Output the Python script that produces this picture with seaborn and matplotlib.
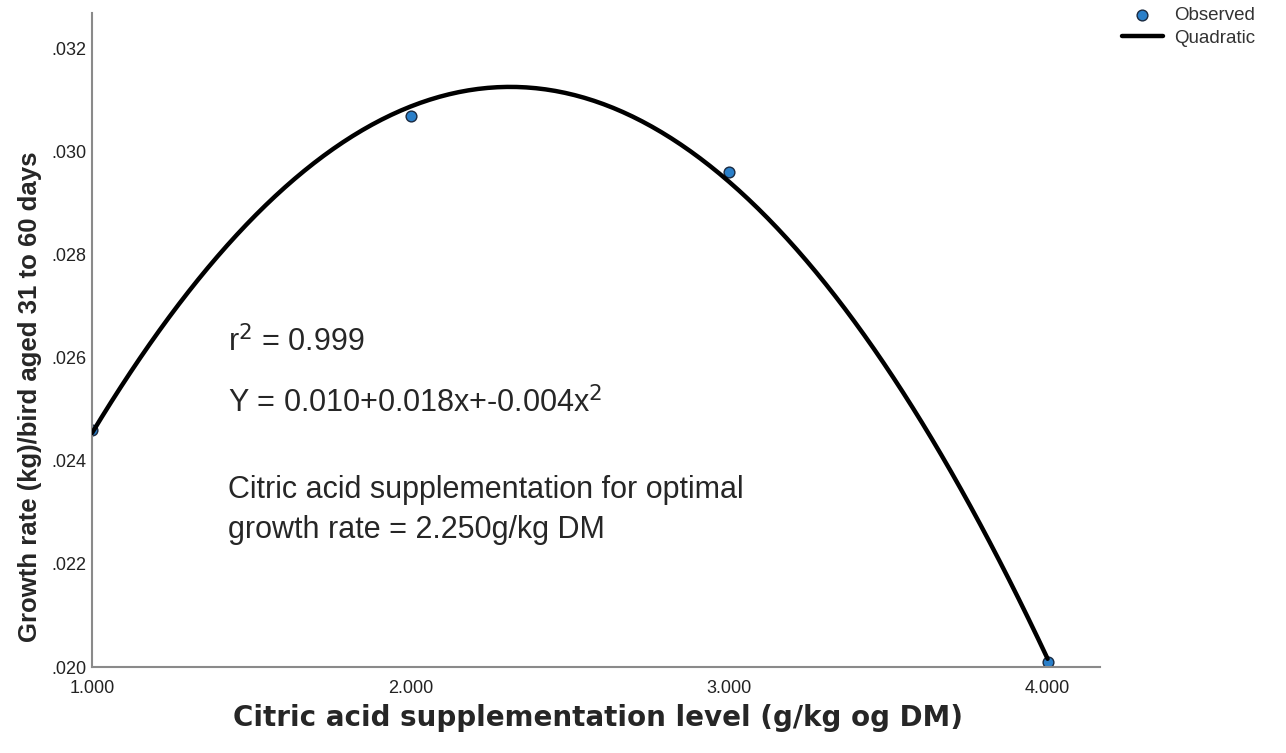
import numpy as np
import pandas as pd
import matplotlib.pyplot as plt
import seaborn as sns

# ----------------------------------------------------------
# Data
# ----------------------------------------------------------
citric_level = [1.0, 2.0, 3.0, 4.0]
growth_rate = [0.0246, 0.0307, 0.0296, 0.0201]

x_ticks = [1.0, 2.0, 3.0, 4.0]
x_tick_labels = ["1.000", "2.000", "3.000", "4.000"]
y_ticks = [0.020, 0.022, 0.024, 0.026, 0.028, 0.030, 0.032]
y_tick_labels = [".020", ".022", ".024", ".026", ".028", ".030", ".032"]

df = pd.DataFrame({"level": citric_level, "growth": growth_rate})

# ----------------------------------------------------------
# Plot
# ----------------------------------------------------------
sns.set_style("white")
plt.rcParams["font.family"] = ["Liberation Sans", "DejaVu Sans"]

fig = plt.figure(figsize=(12.86, 7.53), dpi=100)
ax = fig.add_axes([0.0715, 0.1142, 0.7835, 0.8688])

sns.scatterplot(data=df, x="level", y="growth", ax=ax, s=60,
                color="#2a7fc9", edgecolor="#1a2a40", linewidth=1.0,
                label="Observed", zorder=2)
sns.regplot(data=df, x="level", y="growth", ax=ax, order=2, ci=None,
            scatter=False, label="Quadratic",
            line_kws={"color": "black", "lw": 3.2, "zorder": 3})

ax.set_xlim(1.0, 4.163)
ax.set_ylim(0.020, 0.0327)
ax.set_xticks(x_ticks)
ax.set_xticklabels(x_tick_labels)
ax.set_yticks(y_ticks)
ax.set_yticklabels(y_tick_labels)
ax.tick_params(length=0, labelsize=13, colors="#222222")
ax.tick_params(axis="x", pad=9)
ax.tick_params(axis="y", pad=4)

for side in ["top", "right"]:
    ax.spines[side].set_visible(False)
for side in ["left", "bottom"]:
    ax.spines[side].set_color("#8a8a8a")
    ax.spines[side].set_linewidth(1.5)

ax.set_xlabel("Citric acid supplementation level (g/kg og DM)",
              fontsize=20, fontweight="bold", family=["DejaVu Sans"])
ax.xaxis.set_label_coords(0.502, -0.056)
ax.set_ylabel("Growth rate (kg)/bird aged 31 to 60 days",
              fontsize=18.5, fontweight="bold")
ax.yaxis.set_label_coords(-0.05, 0.413)

# annotation text
ax.text(0.135, 0.497, r"r$^2$ = 0.999", transform=ax.transAxes,
        fontsize=22, va="center")
ax.text(0.135, 0.404, r"Y = 0.010+0.018x+-0.004x$^2$", transform=ax.transAxes,
        fontsize=22, va="center")
ax.text(0.135, 0.24, "Citric acid supplementation for optimal\n"
        "growth rate = 2.250g/kg DM", transform=ax.transAxes,
        fontsize=22, va="center", linespacing=1.4)

ax.get_legend().remove()
handles, labels = ax.get_legend_handles_labels()
fig.legend(handles, labels, loc="upper left", bbox_to_anchor=(0.862, 1.008),
           frameon=False, fontsize=13.5, handlelength=2.2, handletextpad=0.6,
           labelspacing=0.3, borderpad=0.2, labelcolor="#333333")

plt.savefig("out.png", dpi=100)
